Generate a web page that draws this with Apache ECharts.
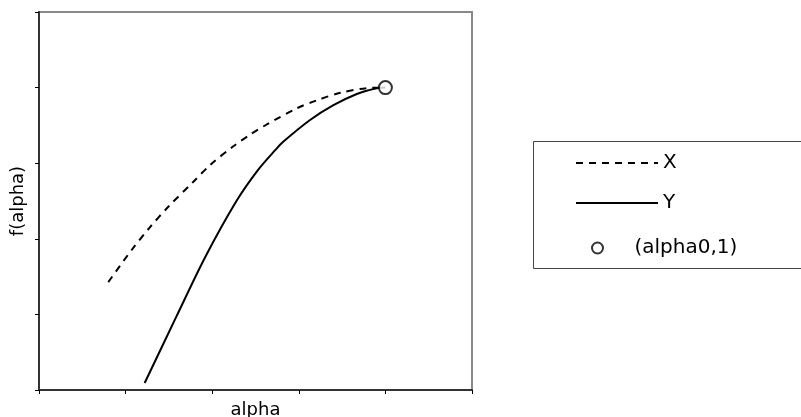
<!DOCTYPE html>
<html>
<head>
<meta charset="utf-8">
<script src="https://cdn.jsdelivr.net/npm/echarts@6/dist/echarts.min.js"></script>
<style>
  html, body { margin: 0; padding: 0; background: #fff; }
  #chart { width: 801px; height: 417px; }
</style>
</head>
<body>
<div id="chart"></div>
<script>
// dashed curve X
const alphaX = [0.80, 1.07, 1.28, 1.49, 1.78, 1.98, 2.24, 2.44, 2.63, 2.98, 3.21, 3.48, 3.78, 4.0]
const fX = [0.357, 0.463, 0.538, 0.605, 0.688, 0.745, 0.805, 0.845, 0.878, 0.932, 0.958, 0.983, 0.998, 1.0]
// solid curve Y
const alphaY = [1.22, 1.59, 1.92, 2.28, 2.53, 2.73, 2.82, 3.13, 3.40, 3.67, 3.90, 4.0]
const fY = [0.023, 0.245, 0.440, 0.625, 0.728, 0.794, 0.821, 0.893, 0.942, 0.979, 0.998, 1.0]
// marker point
const alpha0 = [4]
const fAlpha0 = [1]

const seriesNames = ['X', 'Y', '(alpha0,1)']
const font = 'DejaVu Sans'

function pairs(xs, ys) {
  return xs.map((x, i) => [x, ys[i]])
}

const legendText = { color: '#000', fontFamily: font, fontSize: 20 }
const hideSymbol = { color: 'rgba(0,0,0,0)', borderColor: 'rgba(0,0,0,0)', borderWidth: 0 }

const chart = echarts.init(document.getElementById('chart'))
chart.setOption({
  animation: false,
  backgroundColor: '#fff',
  grid: {
    left: 39,
    right: 329,
    top: 12,
    bottom: 27,
    outerBoundsMode: 'none',
    show: true,
    borderColor: '#888',
    borderWidth: 2,
    backgroundColor: '#fff'
  },
  xAxis: {
    type: 'value',
    min: 0,
    max: 5,
    interval: 1,
    name: 'alpha',
    nameLocation: 'middle',
    nameGap: 11,
    nameTextStyle: { color: '#000', fontFamily: font, fontSize: 18 },
    axisLine: { lineStyle: { color: '#333', width: 2 } },
    axisTick: { show: true, inside: false, length: 4, lineStyle: { color: '#000', width: 1 } },
    axisLabel: { show: false },
    splitLine: { show: false }
  },
  yAxis: {
    type: 'value',
    min: 0,
    max: 1.25,
    interval: 0.25,
    name: 'f(alpha)',
    nameLocation: 'middle',
    nameGap: 12,
    nameTextStyle: { color: '#000', fontFamily: font, fontSize: 18 },
    axisLine: { show: true, lineStyle: { color: '#333', width: 2 } },
    axisTick: { show: true, inside: false, length: 4, lineStyle: { color: '#000', width: 1 } },
    axisLabel: { show: false },
    splitLine: { show: false }
  },
  legend: [{
    data: [seriesNames[0]],
    left: 575,
    top: 153,
    padding: 0,
    itemWidth: 82,
    itemHeight: 14,
    itemStyle: hideSymbol,
    textStyle: legendText
  }, {
    data: [seriesNames[1]],
    left: 575,
    top: 193,
    padding: 0,
    itemWidth: 82,
    itemHeight: 14,
    itemStyle: hideSymbol,
    textStyle: legendText
  }, {
    data: [{ name: seriesNames[2], icon: 'circle' }],
    left: 591,
    top: 238,
    padding: 0,
    itemWidth: 64,
    itemHeight: 11,
    itemStyle: { color: '#fff', borderColor: '#000', borderWidth: 2 },
    textStyle: legendText
  }],
  graphic: [{
    type: 'rect',
    left: 531,
    top: 139,
    shape: { width: 300, height: 127 },
    style: { fill: 'none', stroke: '#444', lineWidth: 1 },
    z: 0
  }],
  series: [{
    name: seriesNames[0],
    type: 'line',
    data: pairs(alphaX, fX),
    smooth: 0.3,
    symbol: 'none',
    lineStyle: { color: '#000', width: 2, type: [7, 6] }
  }, {
    name: seriesNames[1],
    type: 'line',
    data: pairs(alphaY, fY),
    smooth: 0.3,
    symbol: 'none',
    lineStyle: { color: '#000', width: 2 }
  }, {
    name: seriesNames[2],
    type: 'scatter',
    data: pairs(alpha0, fAlpha0),
    symbol: 'circle',
    symbolSize: 13,
    itemStyle: { color: '#fff', borderColor: '#000', borderWidth: 2 },
    z: 5
  }]
})
</script>
</body>
</html>
